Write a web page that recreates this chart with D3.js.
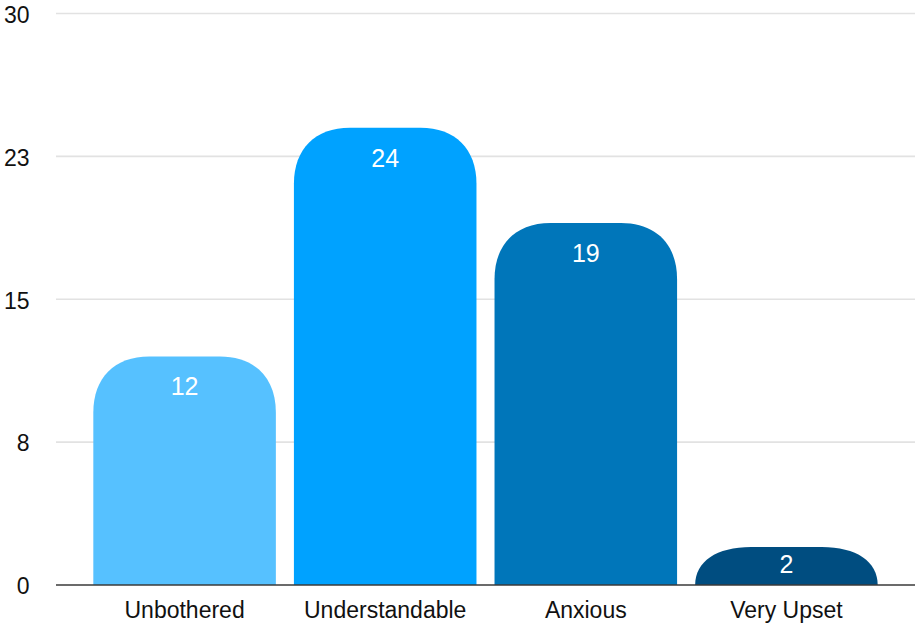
<!DOCTYPE html>
<html>
<head>
<meta charset="utf-8">
<script src="https://cdn.jsdelivr.net/npm/d3@7/dist/d3.min.js"></script>
<style>
  html, body { margin: 0; padding: 0; background: #fff; }
  svg { display: block; font-family: "Liberation Sans", Arial, Helvetica, sans-serif; }
</style>
</head>
<body>
<svg id="chart" width="920" height="626"></svg>
<script>
// Responses per category
const categories = ["Unbothered", "Understandable", "Anxious", "Very Upset"];
const counts = [12, 24, 19, 2];
const barColors = ["#56C1FF", "#00A2FF", "#0076BA", "#004D80"];
const yTicks = [0, 7.5, 15, 22.5, 30];

const svg = d3.select("#chart");
const plotLeft = 56, plotRight = 915, plotTop = 13.5, plotBottom = 585;

const x = d3.scaleBand()
  .domain(categories)
  .range([plotLeft, plotRight])
  .paddingInner(0.09)
  .paddingOuter(0.186);

const y = d3.scaleLinear().domain([0, 30]).range([plotBottom, plotTop]);

// gridlines
svg.append("g")
  .selectAll("line")
  .data(yTicks.filter(d => d > 0))
  .join("line")
  .attr("x1", plotLeft).attr("x2", plotRight)
  .attr("y1", d => y(d)).attr("y2", d => y(d))
  .attr("stroke", "#e2e2e2")
  .attr("stroke-width", 1.6);

// y tick labels
svg.append("g")
  .selectAll("text")
  .data(yTicks)
  .join("text")
  .attr("x", 29.5)
  .attr("y", d => y(d) + 1)
  .attr("dy", "0.36em")
  .attr("text-anchor", "end")
  .attr("font-size", 23)
  .attr("fill", "#111")
  .text(d => Math.round(d));

// bar with rounded top corners
function barPath(x0, w, yTop, yBase) {
  const h = yBase - yTop;
  const rx = Math.min(56, w / 2);
  const ry = Math.min(56, h);
  const k = 0.62;
  return [
    `M${x0},${yBase}`,
    `L${x0},${yTop + ry}`,
    `C${x0},${yTop + ry - ry * k} ${x0 + rx - rx * k},${yTop} ${x0 + rx},${yTop}`,
    `L${x0 + w - rx},${yTop}`,
    `C${x0 + w - rx + rx * k},${yTop} ${x0 + w},${yTop + ry - ry * k} ${x0 + w},${yTop + ry}`,
    `L${x0 + w},${yBase}`,
    "Z"
  ].join(" ");
}

const bars = categories.map((c, i) => ({ c, v: counts[i], color: barColors[i] }));

svg.append("g")
  .selectAll("path")
  .data(bars)
  .join("path")
  .attr("d", d => barPath(x(d.c), x.bandwidth(), y(d.v), y(0)))
  .attr("fill", d => d.color);

// value labels
svg.append("g")
  .selectAll("text")
  .data(bars)
  .join("text")
  .attr("x", d => x(d.c) + x.bandwidth() / 2)
  .attr("y", d => {
    const h = y(0) - y(d.v);
    return y(d.v) + Math.min(30, h / 2 - 2);
  })
  .attr("dy", "0.36em")
  .attr("text-anchor", "middle")
  .attr("font-size", 25)
  .attr("fill", "#fff")
  .text(d => d.v);

// baseline
svg.append("line")
  .attr("x1", plotLeft).attr("x2", plotRight)
  .attr("y1", y(0)).attr("y2", y(0))
  .attr("stroke", "#3a3a3a")
  .attr("stroke-width", 1.6);

// category labels
svg.append("g")
  .selectAll("text")
  .data(categories)
  .join("text")
  .attr("x", d => x(d) + x.bandwidth() / 2)
  .attr("y", 618)
  .attr("text-anchor", "middle")
  .attr("font-size", 23)
  .attr("fill", "#111")
  .text(d => d);
</script>
</body>
</html>
